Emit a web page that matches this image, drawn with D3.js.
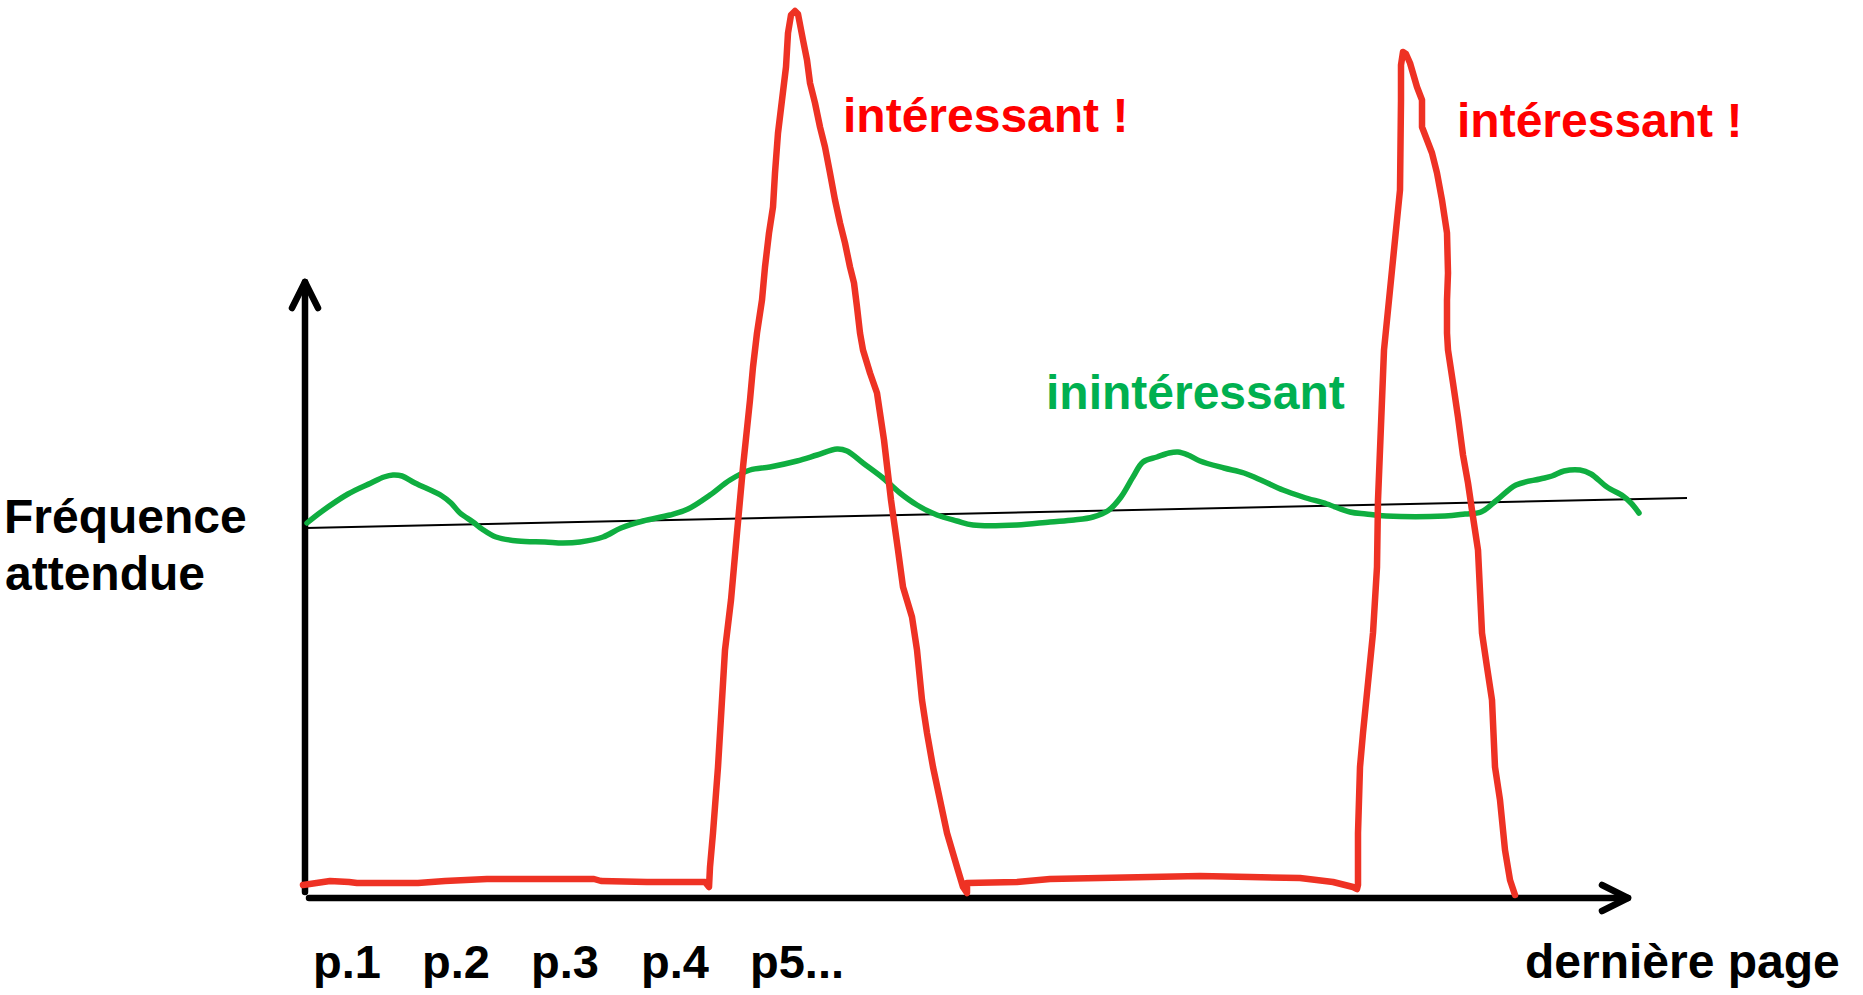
<!DOCTYPE html>
<html>
<head>
<meta charset="utf-8">
<script src="https://cdn.jsdelivr.net/npm/d3@7"></script>
<style>
  body { margin: 0; background: #fff; }
  text { font-family: "Liberation Sans", Arial, sans-serif; font-weight: bold; }
</style>
</head>
<body>
<div id="chart"></div>
<script>
// values, [position, frequency] in arbitrary units
var interesting = [
  [-2,13],[25,17],[44,16],[52,15],[113,15],[140,17],[182,19],[289,19],[296,17],[342,16],[358,16],[400,16],[404,11],
  [405,31],[408,65],[413,131],[417,198],[420,248],[426,298],[432,365],[438,431],[445,498],[448,531],[452,565],
  [457,598],[460,631],[464,665],[468,691],[470,725],[473,765],[477,798],[481,831],[483,865],[486,883],[490,887],
  [493,884],[498,858],[502,838],[505,815],[510,795],[515,771],[520,751],[525,725],[530,698],[535,675],[540,655],
  [545,631],[549,615],[552,591],[555,565],[558,548],[565,525],[572,505],[579,458],[586,398],[593,348],[598,311],
  [607,281],[612,248],[617,198],[622,165],[628,131],[635,98],[642,65],[652,31],[658,11],[662,5],
  [662,15],[712,16],[745,19],[795,20],[845,21],[895,22],[945,21],[995,20],[1028,16],[1048,11],[1052,9],
  [1053,13],[1053,65],[1055,131],[1058,165],[1063,215],[1068,265],[1072,331],[1073,398],[1077,498],[1079,548],
  [1087,628],[1095,708],[1096,798],[1096,833],[1098,846],[1101,844],[1105,835],[1112,811],[1117,798],[1117,771],
  [1127,745],[1132,725],[1137,698],[1142,665],[1143,625],[1142,598],[1142,565],[1143,548],[1148,515],[1153,481],
  [1158,443],[1163,415],[1168,381],[1173,348],[1177,265],[1182,231],[1187,198],[1190,131],[1195,98],[1200,48],
  [1205,18],[1210,3]
];

var uninteresting = [
  [2,375],[16,386],[43,404],[66,415],[79,421],[88,423],[97,422],[110,415],[137,402],[146,395],[155,385],[168,376],
  [177,369],[191,361],[213,357],[240,356],[258,355],[275,356],[298,361],[316,370],[338,377],[365,383],[383,389],
  [405,403],[425,418],[445,428],[465,431],[492,437],[512,443],[532,449],[542,447],[558,435],[578,420],[595,405],
  [612,393],[632,383],[652,377],[668,373],[712,373],[745,376],[769,378],[788,381],[804,388],[816,401],[828,421],
  [838,436],[852,441],[864,445],[873,446],[883,443],[895,437],[919,430],[939,425],[958,417],[978,408],[998,401],
  [1022,394],[1045,386],[1061,384],[1081,382],[1140,382],[1160,384],[1176,386],[1192,398],[1211,413],[1235,419],
  [1247,422],[1259,427],[1275,428],[1286,424],[1302,411],[1318,402],[1326,395],[1334,385]
];

var expected = [[1,370],[1382,400]];

var pageLabels = ["p.1", "p.2", "p.3", "p.4", "p5..."];
var pagePositions = [8, 117, 226, 336, 445];
var lastPageLabel = "dernière page";
var lastPagePosition = 1220;

var peakLabel = "intéressant !";
var peakLabelPositions = [[538, 766], [1152, 761]];
var flatLabel = "inintéressant";
var flatLabelPosition = [741, 489];

var xAxisEnd = 1323, yAxisEnd = 616;

var width = 1863, height = 995;

var svg = d3.select("#chart").append("svg")
    .attr("width", width)
    .attr("height", height);

var x = d3.scaleLinear().domain([0, 1330]).range([305, 1635]);
var y = d3.scaleLinear().domain([0, 890]).range([898, 8]);

// axes drawn as hand-style arrows
var axes = svg.append("g")
    .attr("stroke", "#000")
    .attr("stroke-width", 6.5)
    .attr("stroke-linecap", "round")
    .attr("stroke-linejoin", "round")
    .attr("fill", "none");

axes.append("line")
    .attr("x1", x(0)).attr("y1", y(6))
    .attr("x2", x(0)).attr("y2", y(yAxisEnd));
axes.append("path")
    .attr("d", "M" + (x(0) - 13) + "," + (y(yAxisEnd) + 26) + "L" + x(0) + "," + y(yAxisEnd) +
               "L" + (x(0) + 13) + "," + (y(yAxisEnd) + 26));

axes.append("line")
    .attr("x1", x(4)).attr("y1", y(0))
    .attr("x2", x(xAxisEnd)).attr("y2", y(0));
axes.append("path")
    .attr("d", "M" + (x(xAxisEnd) - 26) + "," + (y(0) - 13) + "L" + x(xAxisEnd) + "," + y(0) +
               "L" + (x(xAxisEnd) - 26) + "," + (y(0) + 13));

// expected frequency
svg.append("path")
    .datum(expected)
    .attr("fill", "none")
    .attr("stroke", "#000")
    .attr("stroke-width", 2)
    .attr("d", d3.line().x(d => x(d[0])).y(d => y(d[1])));

// uninteresting pages
svg.append("path")
    .datum(uninteresting)
    .attr("fill", "none")
    .attr("stroke", "#0fae40")
    .attr("stroke-width", 5.5)
    .attr("stroke-linecap", "round")
    .attr("stroke-linejoin", "round")
    .attr("d", d3.line().curve(d3.curveCatmullRom).x(d => x(d[0])).y(d => y(d[1])));

// interesting pages
svg.append("path")
    .datum(interesting)
    .attr("fill", "none")
    .attr("stroke", "#ee3224")
    .attr("stroke-width", 6.5)
    .attr("stroke-linecap", "round")
    .attr("stroke-linejoin", "round")
    .attr("d", d3.line().x(d => x(d[0])).y(d => y(d[1])));

// texts
svg.append("text")
    .attr("x", 4).attr("y", 533)
    .attr("font-size", 48)
    .attr("fill", "#000")
    .text("Fréquence");
svg.append("text")
    .attr("x", 5).attr("y", 590)
    .attr("font-size", 48)
    .attr("fill", "#000")
    .text("attendue");

svg.selectAll(".page")
    .data(pageLabels)
    .enter().append("text")
    .attr("class", "page")
    .attr("x", (d, i) => x(pagePositions[i]))
    .attr("y", 978)
    .attr("font-size", 47)
    .attr("fill", "#000")
    .text(d => d);

svg.append("text")
    .attr("x", x(lastPagePosition)).attr("y", 978)
    .attr("font-size", 48)
    .attr("fill", "#000")
    .text(lastPageLabel);

svg.selectAll(".peak")
    .data(peakLabelPositions)
    .enter().append("text")
    .attr("class", "peak")
    .attr("x", d => x(d[0]))
    .attr("y", d => y(d[1]))
    .attr("font-size", 48)
    .attr("fill", "#ff0000")
    .text(peakLabel);

svg.append("text")
    .attr("x", x(flatLabelPosition[0])).attr("y", y(flatLabelPosition[1]))
    .attr("font-size", 48)
    .attr("fill", "#00b050")
    .text(flatLabel);
</script>
</body>
</html>
